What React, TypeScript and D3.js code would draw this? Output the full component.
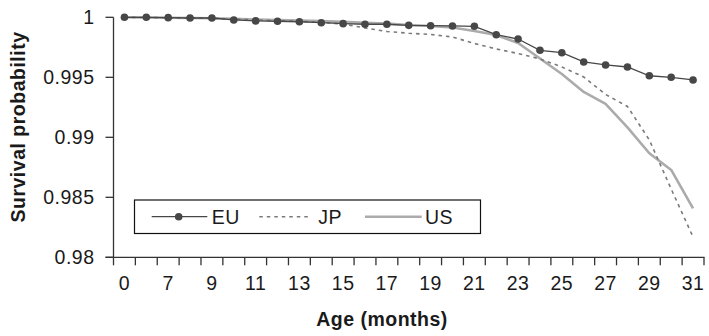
import { scaleBand, scaleLinear, line } from 'd3';

// month categories on the x axis (every other one is labelled)
const months = ['0', '6', '7', '8', '9', '10', '11', '12', '13', '14', '15', '16', '17', '18', '19', '20', '21', '22', '23', '24', '25', '26', '27', '28', '29', '30', '31'];

const euValues = [1.0, 1.0, 0.99997, 0.99994, 0.99994, 0.99978, 0.9997, 0.99967, 0.99963, 0.99955, 0.99947, 0.99942, 0.99942,
    0.99933, 0.9993, 0.99928, 0.99925, 0.99855, 0.99819, 0.99725, 0.99705, 0.99628, 0.99603, 0.99586, 0.99513, 0.995, 0.99478];

const jpValues = [1.0, 0.99998, 0.99996, 0.99994, 0.99991, 0.99985, 0.99978, 0.99972, 0.99966, 0.99958, 0.99944, 0.99911, 0.99882,
    0.99867, 0.99857, 0.99836, 0.99782, 0.99736, 0.99698, 0.99653, 0.99586, 0.99503, 0.99357, 0.99257, 0.98978, 0.98569, 0.98169];

const usValues = [1.0, 0.99998, 0.99996, 0.99994, 0.99992, 0.99988, 0.99982, 0.99978, 0.99973, 0.99968, 0.99962, 0.99955, 0.99947,
    0.99936, 0.99928, 0.99915, 0.99886, 0.99853, 0.99786, 0.99657, 0.99528, 0.99378, 0.99278, 0.99082, 0.98867, 0.98728, 0.98408];

const yTicks = [0.98, 0.985, 0.99, 0.995, 1];
const yTickLabels = ['0.98', '0.985', '0.99', '0.995', '1'];

const font = '"Liberation Sans", Arial, sans-serif';
const fs = 19.5;
const ls = 0.5;

const App = () => {
    const xScale = scaleBand<string>().domain(months).range([113.5, 704]).padding(0);
    const yScale = scaleLinear().domain([0.98, 1]).range([257.3, 17.3]);
    const bw = xScale.bandwidth();
    const cx = (i: number) => (xScale(months[i]) as number) + bw / 2;

    const makeLine = line<number>()
        .x((d, i) => cx(i))
        .y(d => yScale(d));

    const [x0, x1] = xScale.range();
    const [yBottom, yTop] = yScale.range();
    const boundaries = months.map(m => xScale(m) as number).concat([x1]);

    return (
        <svg width={709} height={336} style={{ position: 'absolute', left: 0, top: 0, background: '#fff' }}
            fontFamily={font}>
            {/* series */}
            <path d={makeLine(usValues) || ''} fill="none" stroke="#ababab" strokeWidth={2.6} strokeLinejoin="round" />
            <path d={makeLine(jpValues) || ''} fill="none" stroke="#7a7a7a" strokeWidth={1.6} strokeDasharray="3.5,4" />
            <path d={makeLine(euValues) || ''} fill="none" stroke="#474747" strokeWidth={1.3} />
            {euValues.map((v, i) => (
                <circle key={i} cx={cx(i)} cy={yScale(v)} r={3.8} fill="#474747" />
            ))}

            {/* y axis */}
            <line x1={x0} x2={x0} y1={yTop} y2={yBottom + 0.5} stroke="#333" strokeWidth={1.3} />
            {yTicks.map((t, i) => (
                <g key={t}>
                    <line x1={x0 - 8} x2={x0} y1={yScale(t)} y2={yScale(t)} stroke="#333" strokeWidth={1.3} />
                    <text x={94.5} y={yScale(t)} dy="0.35em" textAnchor="end" fontSize={fs} letterSpacing={ls}
                        fill="#1a1a1a">{yTickLabels[i]}</text>
                </g>
            ))}

            {/* x axis */}
            <line x1={x0 - 8} x2={x1 + 0.5} y1={yBottom} y2={yBottom} stroke="#333" strokeWidth={1.3} />
            {boundaries.map((b, i) => (
                <line key={i} x1={b} x2={b} y1={yBottom} y2={yBottom + 8} stroke="#333" strokeWidth={1.3} />
            ))}
            {months.map((m, i) => i % 2 === 0 ? (
                <text key={m} x={cx(i)} y={289.5} textAnchor="middle" fontSize={fs} letterSpacing={ls}
                    fill="#1a1a1a">{m}</text>
            ) : null)}

            {/* axis titles */}
            <text x={382} y={326} textAnchor="middle" fontSize={fs} fontWeight="bold" letterSpacing={ls}
                fill="#1a1a1a">Age (months)</text>
            <text transform="translate(25,127) rotate(-90)" textAnchor="middle" fontSize={fs} fontWeight="bold"
                letterSpacing={ls} fill="#1a1a1a">Survival probability</text>

            {/* legend */}
            <rect x={134.5} y={200} width={346} height={33.5} fill="#fff" stroke="#111" strokeWidth={1.2} />
            <line x1={151.7} x2={207.3} y1={216.7} y2={216.7} stroke="#474747" strokeWidth={1.3} />
            <circle cx={178.7} cy={216.7} r={3.8} fill="#474747" />
            <text x={211.7} y={216.7} dy="0.35em" fontSize={fs} letterSpacing={ls} fill="#1a1a1a">EU</text>
            <line x1={259.3} x2={308.3} y1={216.7} y2={216.7} stroke="#7a7a7a" strokeWidth={1.6} strokeDasharray="3.5,4" />
            <text x={318.3} y={216.7} dy="0.35em" fontSize={fs} letterSpacing={ls} fill="#1a1a1a">JP</text>
            <line x1={365} x2={421.7} y1={216.7} y2={216.7} stroke="#ababab" strokeWidth={2.6} />
            <text x={425} y={216.7} dy="0.35em" fontSize={fs} letterSpacing={ls} fill="#1a1a1a">US</text>
        </svg>
    );
};

export default App;
